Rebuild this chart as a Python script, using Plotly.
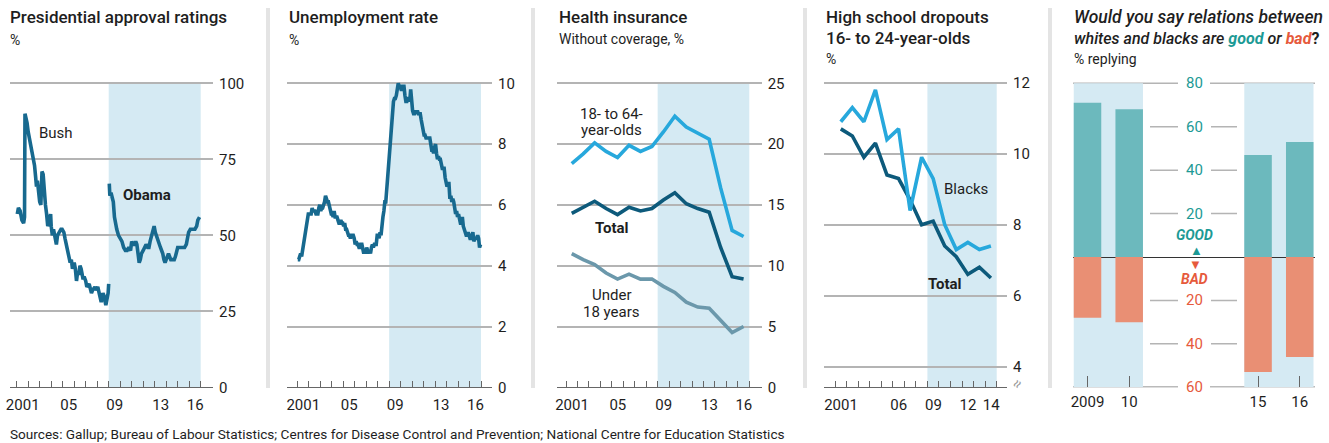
import plotly.graph_objects as go

# ---------------- DATA ----------------
# Presidential approval (Gallup), decimal year / %
bush_year = [2001.05, 2001.15, 2001.3, 2001.45, 2001.6, 2001.68, 2001.72, 2001.8, 2001.9, 2002.0,
             2002.1, 2002.2, 2002.35, 2002.45, 2002.55, 2002.65, 2002.72, 2002.8, 2002.9, 2003.0,
             2003.1, 2003.2, 2003.3, 2003.4, 2003.5, 2003.6, 2003.7, 2003.85, 2003.95, 2004.0,
             2004.1, 2004.2, 2004.35, 2004.45, 2004.55, 2004.7, 2004.85, 2004.95, 2005.1, 2005.2,
             2005.35, 2005.5, 2005.65, 2005.75, 2005.85, 2006.0, 2006.1, 2006.2, 2006.3, 2006.4,
             2006.5, 2006.6, 2006.75, 2006.9, 2007.0, 2007.1, 2007.3, 2007.5, 2007.6, 2007.8,
             2007.9, 2008.05, 2008.2, 2008.35, 2008.5, 2008.6, 2008.75, 2008.85, 2008.95, 2009.0]
bush_pct = [57, 59, 58, 55, 54, 56, 90, 89, 87, 84,
            82, 80, 77, 76, 73, 69, 66, 68, 63, 61,
            60, 71, 70, 63, 60, 57, 53, 55, 57, 53,
            50, 52, 48, 47, 50, 51, 52, 52, 51, 49,
            46, 44, 41, 42, 39, 41, 39, 35, 38, 37,
            40, 39, 36, 36, 35, 33, 34, 31, 32, 33,
            32, 33, 30, 28, 31, 30, 27, 29, 31, 34]
obama_year = [2009.05, 2009.1, 2009.2, 2009.3, 2009.4, 2009.5, 2009.6, 2009.7, 2009.85, 2010.0,
              2010.15, 2010.3, 2010.45, 2010.6, 2010.75, 2010.9, 2011.0, 2011.1, 2011.25, 2011.35,
              2011.45, 2011.55, 2011.65, 2011.75, 2011.85, 2012.0, 2012.1, 2012.25, 2012.4, 2012.5,
              2012.6, 2012.75, 2012.85, 2012.95, 2013.05, 2013.2, 2013.35, 2013.5, 2013.6, 2013.7,
              2013.8, 2013.9, 2014.0, 2014.1, 2014.2, 2014.3, 2014.4, 2014.5, 2014.6, 2014.7,
              2014.8, 2014.9, 2015.0, 2015.2, 2015.4, 2015.6, 2015.75, 2015.85, 2015.95, 2016.1,
              2016.3, 2016.5, 2016.65, 2016.75, 2016.9]
obama_pct = [67, 63, 64, 62, 61, 56, 53, 52, 50, 49,
             48, 46, 45, 45, 46, 45, 48, 47, 47, 48,
             47, 44, 41, 42, 44, 45, 46, 47, 46, 46,
             48, 50, 52, 53, 51, 49, 48, 46, 45, 44,
             42, 41, 42, 43, 44, 43, 42, 42, 42, 42,
             43, 45, 46, 46, 46, 46, 47, 49, 51, 52,
             52, 52, 53, 55, 56]

# Unemployment rate, monthly Jan 2001 - Dec 2016, %
unemp_first_year = 2001
unemp_pct = [
    4.2, 4.2, 4.3, 4.4, 4.3, 4.5, 4.6, 4.9, 5.0, 5.3, 5.5, 5.7,
    5.7, 5.7, 5.7, 5.9, 5.8, 5.8, 5.8, 5.7, 5.7, 5.7, 5.9, 6.0,
    5.8, 5.9, 5.9, 6.0, 6.1, 6.3, 6.2, 6.1, 6.1, 6.0, 5.8, 5.7,
    5.7, 5.6, 5.8, 5.6, 5.6, 5.6, 5.5, 5.4, 5.4, 5.5, 5.4, 5.4,
    5.3, 5.4, 5.2, 5.2, 5.1, 5.0, 5.0, 4.9, 5.0, 5.0, 5.0, 4.9,
    4.7, 4.8, 4.7, 4.7, 4.6, 4.6, 4.7, 4.7, 4.5, 4.4, 4.5, 4.4,
    4.6, 4.5, 4.4, 4.5, 4.4, 4.6, 4.7, 4.6, 4.7, 4.7, 4.7, 5.0,
    5.0, 4.9, 5.1, 5.0, 5.4, 5.6, 5.8, 6.1, 6.1, 6.5, 6.8, 7.3,
    7.8, 8.3, 8.7, 9.0, 9.4, 9.5, 9.5, 9.6, 9.8, 10.0, 9.9, 9.9,
    9.8, 9.8, 9.9, 9.9, 9.6, 9.4, 9.4, 9.5, 9.5, 9.4, 9.8, 9.3,
    9.1, 9.0, 9.0, 9.1, 9.0, 9.1, 9.0, 9.0, 9.0, 8.8, 8.6, 8.5,
    8.3, 8.3, 8.2, 8.2, 8.2, 8.2, 8.2, 8.0, 7.8, 7.8, 7.7, 7.9,
    8.0, 7.7, 7.5, 7.6, 7.5, 7.5, 7.3, 7.2, 7.2, 7.2, 6.9, 6.7,
    6.6, 6.7, 6.7, 6.2, 6.3, 6.1, 6.2, 6.1, 5.9, 5.7, 5.8, 5.6,
    5.7, 5.5, 5.4, 5.4, 5.6, 5.3, 5.2, 5.1, 5.0, 5.0, 5.1, 5.0,
    4.9, 4.9, 5.0, 5.1, 4.8, 4.9, 4.9, 4.9, 5.0, 4.9, 4.6, 4.7]

# Health insurance, without coverage, %
health_years = list(range(2001, 2017))
health_18_64 = [18.4, 19.2, 20.1, 19.4, 18.9, 19.9, 19.4, 19.8, 21.0, 22.3, 21.4, 20.9, 20.4, 16.4, 12.9, 12.4]
health_total = [14.3, 14.8, 15.3, 14.7, 14.2, 14.8, 14.5, 14.7, 15.4, 16.0, 15.1, 14.7, 14.4, 11.5, 9.1, 8.9]
health_under18 = [11.0, 10.5, 10.1, 9.4, 8.9, 9.3, 8.9, 8.9, 8.3, 7.8, 7.0, 6.6, 6.5, 5.5, 4.5, 5.0]

# High school dropouts, 16- to 24-year-olds, %
drop_years = list(range(2001, 2015))
drop_blacks = [10.9, 11.3, 10.9, 11.8, 10.4, 10.7, 8.4, 9.9, 9.3, 8.0, 7.3, 7.5, 7.3, 7.4]
drop_total = [10.7, 10.5, 9.9, 10.3, 9.4, 9.3, 8.7, 8.0, 8.1, 7.4, 7.1, 6.6, 6.8, 6.5]

# Race relations, % replying
race_years = [2009, 2010, 2015, 2016]
race_labels = ["2009", "10", "15", "16"]
race_good = [71, 68, 47, 53]
race_bad = [28, 30, 53, 46]

# Axis ticks / labels
p1_yticks = [0, 25, 50, 75, 100]
p2_yticks = [0, 2, 4, 6, 8, 10]
p3_yticks = [0, 5, 10, 15, 20, 25]
p4_yticks = [4, 6, 8, 10, 12]
p5_yticks = [80, 60, 40, 20, -20, -40, -60]
labels_a = {2001: "2001", 2005: "05", 2009: "09", 2013: "13", 2016: "16"}
labels_b = {2001: "2001", 2006: "06", 2009: "09", 2012: "12", 2014: "14"}
obama_term = (2009, 2017)

# ---------------- STYLE ----------------
W, H = 1329, 443
FONT = "Roboto"
TXT = "#1e1e1e"
GRID = "#b4b4b4"
AXL = "#666666"
SHADE = "#d5eaf3"
DARK = "#17698f"
BRIGHT = "#27a8dc"
NAVY = "#0d5a7b"
GREYBLUE = "#6b98ab"
GOOD_BAR = "#6cb9bd"
BAD_BAR = "#e98f74"
GOOD_TXT = "#1c9a95"
BAD_TXT = "#e65a3c"
LW = 3.6


def px(xp):
    return xp / W


def py(yp):
    return 1 - yp / H


def lin(v1, p1, v2, p2, p):
    return v1 + (p - p1) * (v2 - v1) / (p2 - p1)


TOP, BOT = 75.0, 387.3
panels = [
    dict(xd=(10, 213), xm=(2001, 16.7, 2017, 200.7), ym=(0, 387.3, 100, 83.3)),
    dict(xd=(287, 492), xm=(2001, 297.3, 2017, 481.0), ym=(0, 387.3, 10, 83.3)),
    dict(xd=(556.7, 761.7), xm=(2001, 566.0, 2017, 749.3), ym=(0, 387.3, 25, 83.3)),
    dict(xd=(824, 1007), xm=(2001, 835.0, 2015, 996.7), ym=(4, 366.7, 12, 82.7)),
    dict(xd=(1073, 1315), xm=(0, 1087.5, 1, 1129.2), ym=(-60, 387.3, 80, 83.3)),
]

fig = go.Figure()
layout = dict(template="none", width=W, height=H,
              margin=dict(l=0, r=0, t=0, b=0, pad=0, autoexpand=False),
              paper_bgcolor="white", plot_bgcolor="rgba(0,0,0,0)",
              showlegend=False, hovermode=False, barmode="relative",
              font=dict(family=FONT, color=TXT))

yticks_all = [p1_yticks, p2_yticks, p3_yticks, p4_yticks]
xlabels_all = [labels_a, labels_a, labels_a, labels_b]
xlast = [2017, 2017, 2017, 2015]

for i, p in enumerate(panels):
    n = "" if i == 0 else str(i + 1)
    xr = [lin(*p["xm"], p["xd"][0]), lin(*p["xm"], p["xd"][1])]
    yr = [lin(*p["ym"], BOT), lin(*p["ym"], TOP)]
    p["xr"], p["yr"] = xr, yr
    if i < 4:
        yrs = list(range(2001, xlast[i] + 1))
        half = int(round((p["xm"][3] - p["xm"][1]) / (p["xm"][2] - p["xm"][0]) / 2))
        layout["xaxis" + n] = dict(
            domain=[px(p["xd"][0]), px(p["xd"][1])], range=xr, anchor="y" + n,
            tickmode="array", tickvals=yrs, ticktext=[xlabels_all[i].get(y, "") for y in yrs],
            ticks="inside", ticklen=6, tickwidth=1, tickcolor=AXL,
            showline=True, linecolor=AXL, linewidth=1.2, showgrid=False, zeroline=False,
            ticklabelshift=half, ticklabelstandoff=4, automargin=False,
            tickfont=dict(size=15, color=TXT, family=FONT), fixedrange=True)
        layout["yaxis" + n] = dict(
            domain=[py(BOT), py(TOP)], range=yr, anchor="x" + n, side="right",
            tickmode="array", tickvals=yticks_all[i], ticks="",
            showgrid=True, gridcolor=GRID, gridwidth=1.5, zeroline=False, showline=False,
            ticklabelstandoff=5, automargin=False,
            tickfont=dict(size=15, color=TXT, family=FONT), fixedrange=True)

# panel 5 axes (broken year axis: gap between 2010 and 2015)
GAP_SHRINK = 1.91
race_pos = [y - race_years[0] if y <= 2010 else y - race_years[0] - GAP_SHRINK for y in race_years]
p5 = panels[4]
layout["xaxis5"] = dict(
    domain=[px(p5["xd"][0]), px(p5["xd"][1])], range=p5["xr"], anchor="y5",
    tickmode="array", tickvals=race_pos, ticktext=race_labels,
    ticks="inside", ticklen=11, tickwidth=1.2, tickcolor=AXL, showline=False,
    showgrid=False, zeroline=False, ticklabelstandoff=4, automargin=False,
    tickfont=dict(size=15, color=TXT, family=FONT), fixedrange=True)
layout["yaxis5"] = dict(
    domain=[py(BOT), py(TOP)], range=p5["yr"], anchor="x5", automargin=False,
    showticklabels=False, showgrid=False, zeroline=True, zerolinecolor="#333333",
    zerolinewidth=1.3, fixedrange=True)

# ---------------- TRACES ----------------
line = lambda c: dict(color=c, width=LW)
fig.add_trace(go.Scatter(x=bush_year, y=bush_pct, mode="lines", line=line(DARK), xaxis="x", yaxis="y"))
fig.add_trace(go.Scatter(x=obama_year, y=obama_pct, mode="lines", line=line(DARK), xaxis="x", yaxis="y"))

unemp_x = [unemp_first_year + (k + 0.5) / 12 for k in range(len(unemp_pct))]
fig.add_trace(go.Scatter(x=unemp_x, y=unemp_pct, mode="lines", line=line(DARK), xaxis="x2", yaxis="y2"))

hx = [y + 0.5 for y in health_years]
fig.add_trace(go.Scatter(x=hx, y=health_under18, mode="lines", line=line(GREYBLUE), xaxis="x3", yaxis="y3"))
fig.add_trace(go.Scatter(x=hx, y=health_total, mode="lines", line=line(NAVY), xaxis="x3", yaxis="y3"))
fig.add_trace(go.Scatter(x=hx, y=health_18_64, mode="lines", line=line(BRIGHT), xaxis="x3", yaxis="y3"))

dx = [y + 0.5 for y in drop_years]
fig.add_trace(go.Scatter(x=dx, y=drop_total, mode="lines", line=line(NAVY), xaxis="x4", yaxis="y4"))
fig.add_trace(go.Scatter(x=dx, y=drop_blacks, mode="lines", line=line(BRIGHT), xaxis="x4", yaxis="y4"))

BW = 0.66
fig.add_trace(go.Bar(x=race_pos, y=race_good, width=BW, marker=dict(color=GOOD_BAR, line_width=0),
                     xaxis="x5", yaxis="y5"))
fig.add_trace(go.Bar(x=race_pos, y=[-b for b in race_bad], width=BW, marker=dict(color=BAD_BAR, line_width=0),
                     xaxis="x5", yaxis="y5"))

# ---------------- SHAPES ----------------
shapes = []
tops = [p1_yticks[-1], p2_yticks[-1], p3_yticks[-1], p4_yticks[-1]]
shade_end = [obama_term[1], obama_term[1], obama_term[1], drop_years[-1] + 1]
for i in range(4):
    n = "" if i == 0 else str(i + 1)
    shapes.append(dict(type="rect", xref="x" + n, yref="y" + n, x0=obama_term[0], x1=shade_end[i],
                       y0=panels[i]["yr"][0], y1=tops[i], fillcolor=SHADE, line_width=0, layer="below"))
for a, b in [(0, 1), (2, 3)]:
    shapes.append(dict(type="rect", xref="x5", yref="y5", x0=race_pos[a] - BW / 2, x1=race_pos[b] + BW / 2,
                       y0=p5_yticks[-1], y1=p5_yticks[0], fillcolor=SHADE, line_width=0, layer="below"))

# panel 5 broken gridlines
for v in p5_yticks:
    if v in (p5_yticks[0], p5_yticks[-1]):
        segs = [(1073, 1178), (1210, 1315)]
        col = GRID if v > 0 else "#777777"
    else:
        segs = [(1150, 1178), (1211, 1237)]
        col = GRID
    for s0, s1 in segs:
        shapes.append(dict(type="line", xref="paper", yref="y5", x0=px(s0), x1=px(s1), y0=v, y1=v,
                           line=dict(color=col, width=1.5), layer="below"))

# panel separators
for sx in [268, 533, 805, 1050]:
    shapes.append(dict(type="line", xref="paper", yref="paper", x0=px(sx), x1=px(sx),
                       y0=py(388), y1=py(8), line=dict(color="#e4e4e4", width=4)))

# ---------------- ANNOTATIONS ----------------
ann = []


def text(x, y, s, size=15, color=TXT, xanchor="left", xref="paper", yref="paper", weight=None, **kw):
    f = dict(size=size, color=color, family=FONT)
    if weight:
        f["weight"] = weight
    ann.append(dict(x=x, y=y, text=s, xref=xref, yref=yref, xanchor=xanchor, yanchor="middle",
                    showarrow=False, font=f, **kw))


TW = 500
text(px(8), py(17), "Presidential approval ratings", 17, weight=TW)
text(px(8), py(40), "%", 14)
text(px(286.7), py(17), "Unemployment rate", 17, weight=TW)
text(px(286.7), py(40), "%", 14)
text(px(556.7), py(17), "Health insurance", 17, weight=TW)
text(px(556.7), py(39), "Without coverage, %", 14)
text(px(824), py(17), "High school dropouts", 17, weight=TW)
text(px(824), py(38), "16- to 24-year-olds", 17, weight=TW)
text(px(824), py(59), "%", 14)
text(px(1071.7), py(17), "<i>Would you say relations between</i>", 17.5, weight=TW)
text(px(1071.7), py(38),
     "<i>whites and blacks are <b style='color:%s'>good</b> or "
     "<b style='color:%s'>bad</b></i><b>?</b>" % (GOOD_TXT, BAD_TXT), 16, weight=TW)
text(px(1071.7), py(59), "% replying", 14)
text(px(8), py(434), "Sources: Gallup; Bureau of Labour Statistics; Centres for Disease Control and Prevention; "
     "National Centre for Education Statistics", 13.6)

# in-chart labels
text(2002.74, 83.5, "Bush", xref="x", yref="y")
text(2010.04, 63.3, "<b>Obama</b>", xref="x", yref="y")
text(2005.0, 22.5, "18- to 64-", xref="x3", yref="y3", xanchor="center")
text(2005.0, 21.2, "year-olds", xref="x3", yref="y3", xanchor="center")
text(2005.0, 13.1, "<b>Total</b>", xref="x3", yref="y3", xanchor="center")
text(2005.0, 7.6, "Under", xref="x3", yref="y3", xanchor="center")
text(2005.0, 6.2, "18 years", xref="x3", yref="y3", xanchor="center")
text(2010.24, 9.0, "Blacks", xref="x4", yref="y4")
text(2008.88, 6.34, "<b>Total</b>", xref="x4", yref="y4")

# panel 5 value labels (centre axis)
for v in p5_yticks:
    text(px(1194), v, str(abs(v)), 15, GOOD_TXT if v > 0 else BAD_TXT, xanchor="center", yref="y5")
text(px(1194), py(235), "<b><i>GOOD</i></b>", 14, GOOD_TXT, xanchor="center")
text(px(1196), py(250), "▲", 13, GOOD_TXT, xanchor="center")
text(px(1195), py(264), "▼", 13, BAD_TXT, xanchor="center")
text(px(1194), py(279), "<b><i>BAD</i></b>", 14, BAD_TXT, xanchor="center")

# axis break mark on panel 4
text(px(1017), py(384), "≈", 15, "#999999", xanchor="center", textangle=-60)

layout["shapes"] = shapes
layout["annotations"] = ann
fig.update_layout(**layout)
fig.write_html("out.html", config={"displayModeBar": False},
               post_script="document.body.style.margin='0';document.body.style.overflow='hidden';")
